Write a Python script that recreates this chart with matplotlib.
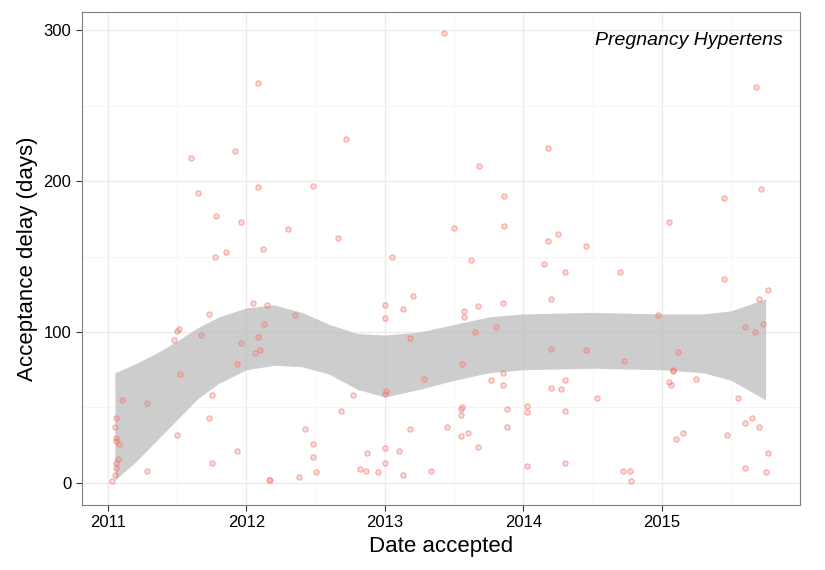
import numpy as np
import matplotlib.pyplot as plt

plt.rcParams['font.family'] = ['Liberation Sans', 'DejaVu Sans']

# scatter points: (decimal year, acceptance delay in days)
pts = [
    (2011.03, 1), (2011.05, 5), (2011.06, 10), (2011.06, 13), (2011.07, 16), (2011.06, 28),
    (2011.08, 26), (2011.06, 30), (2011.05, 37), (2011.06, 43), (2011.1, 55), (2011.28, 53),
    (2011.28, 8), (2011.48, 95), (2011.5, 101), (2011.51, 102), (2011.52, 72), (2011.5, 32),
    (2011.6, 215), (2011.65, 192), (2011.67, 98), (2011.73, 112), (2011.73, 43), (2011.75, 13),
    (2011.75, 58), (2011.77, 150), (2011.78, 177), (2011.85, 153), (2011.92, 220), (2011.93, 21),
    (2011.93, 79), (2011.96, 93), (2011.96, 173), (2012.05, 119), (2012.06, 86), (2012.08, 265),
    (2012.08, 196), (2012.08, 97), (2012.1, 88), (2012.12, 155), (2012.13, 105), (2012.16, 2),
    (2012.17, 2), (2012.15, 118), (2012.3, 168), (2012.35, 111), (2012.38, 4), (2012.42, 36),
    (2012.48, 197), (2012.48, 17), (2012.5, 7), (2012.48, 26), (2012.66, 162), (2012.68, 48),
    (2012.72, 228), (2012.77, 58), (2012.82, 9), (2012.86, 8), (2012.87, 20), (2012.95, 7),
    (2013.0, 13), (2013.0, 23), (2013.0, 59), (2013.01, 61), (2013.0, 109), (2013.0, 118),
    (2013.05, 150), (2013.1, 21), (2013.13, 115), (2013.13, 5), (2013.18, 36), (2013.18, 96),
    (2013.2, 124), (2013.28, 69), (2013.33, 8), (2013.43, 298), (2013.45, 37), (2013.5, 169),
    (2013.55, 31), (2013.55, 45), (2013.55, 49), (2013.56, 50), (2013.56, 79), (2013.57, 110),
    (2013.57, 114), (2013.6, 33), (2013.62, 148), (2013.65, 100), (2013.67, 24), (2013.67, 117),
    (2013.68, 210), (2013.77, 68), (2013.8, 103), (2013.85, 65), (2013.85, 73), (2013.85, 119),
    (2013.86, 170), (2013.86, 190), (2013.88, 37), (2013.88, 49), (2014.03, 51), (2014.03, 47),
    (2014.03, 11), (2014.15, 145), (2014.18, 222), (2014.18, 160), (2014.2, 122), (2014.2, 89),
    (2014.2, 63), (2014.25, 165), (2014.27, 62), (2014.3, 140), (2014.3, 68), (2014.3, 48),
    (2014.3, 13), (2014.45, 157), (2014.45, 88), (2014.53, 56), (2014.7, 140), (2014.72, 8),
    (2014.73, 81), (2014.77, 8), (2014.78, 1), (2014.97, 111), (2015.05, 173), (2015.05, 67),
    (2015.07, 65), (2015.08, 74), (2015.08, 75), (2015.1, 29), (2015.12, 87), (2015.15, 33),
    (2015.25, 69), (2015.45, 189), (2015.45, 135), (2015.47, 32), (2015.55, 56), (2015.6, 103),
    (2015.6, 40), (2015.6, 10), (2015.65, 43), (2015.67, 100), (2015.68, 262), (2015.7, 122),
    (2015.7, 37), (2015.72, 195), (2015.73, 105), (2015.75, 7), (2015.77, 128), (2015.77, 20),
]
px = [p[0] for p in pts]
py = [p[1] for p in pts]

# loess confidence band
band_x = [2011.05, 2011.2, 2011.35, 2011.5, 2011.65, 2011.8, 2012.0, 2012.2, 2012.4, 2012.6,
          2012.8, 2013.0, 2013.25, 2013.5, 2013.75, 2014.0, 2014.5, 2015.0, 2015.3, 2015.5, 2015.75]
band_lo = [2, 14, 28, 42, 56, 66, 75, 78, 77, 72, 62, 57, 62, 68, 73, 75, 76, 75, 73, 68, 55]
band_hi = [73, 79, 86, 94, 103, 110, 116, 118, 113, 105, 99, 98, 100, 105, 110, 112, 113, 112, 112, 114, 122]

fig = plt.figure(figsize=(8.25, 5.7), dpi=100)
ax = fig.add_axes([0.099, 0.114, 0.871, 0.865])
ax.fill_between(band_x, band_lo, band_hi, color='#bdbdbd', alpha=0.75, lw=0, zorder=2)
ax.scatter(px, py, s=14, facecolor=(0.97, 0.46, 0.43, 0.25), edgecolor=(0.97, 0.46, 0.43, 0.6),
           linewidth=0.8, zorder=3)

ax.set_xlim(2010.81, 2016.0)
ax.set_ylim(-14.6, 312)
ax.set_xticks([2011, 2012, 2013, 2014, 2015])
ax.set_xticklabels(['2011', '2012', '2013', '2014', '2015'])
ax.set_yticks([0, 100, 200, 300])
ax.set_xticks(np.arange(2011.5, 2016, 1), minor=True)
ax.set_yticks([50, 150, 250], minor=True)
ax.grid(True, which='major', color='#ebebeb', lw=1.0, zorder=0)
ax.grid(True, which='minor', color='#f4f4f4', lw=0.6, zorder=0)
ax.set_axisbelow(True)
for s in ax.spines.values():
    s.set_color('#7f7f7f')
ax.tick_params(which='both', length=4, color='#333333', labelsize=12, labelcolor='black')
ax.tick_params(which='minor', length=0)
ax.set_xlabel('Date accepted', fontsize=16)
ax.set_ylabel('Acceptance delay (days)', fontsize=16)
ax.text(0.975, 0.96, 'Pregnancy Hypertens', transform=ax.transAxes, ha='right', va='top',
        fontsize=14, style='italic')
fig.savefig('out.png', dpi=100)
